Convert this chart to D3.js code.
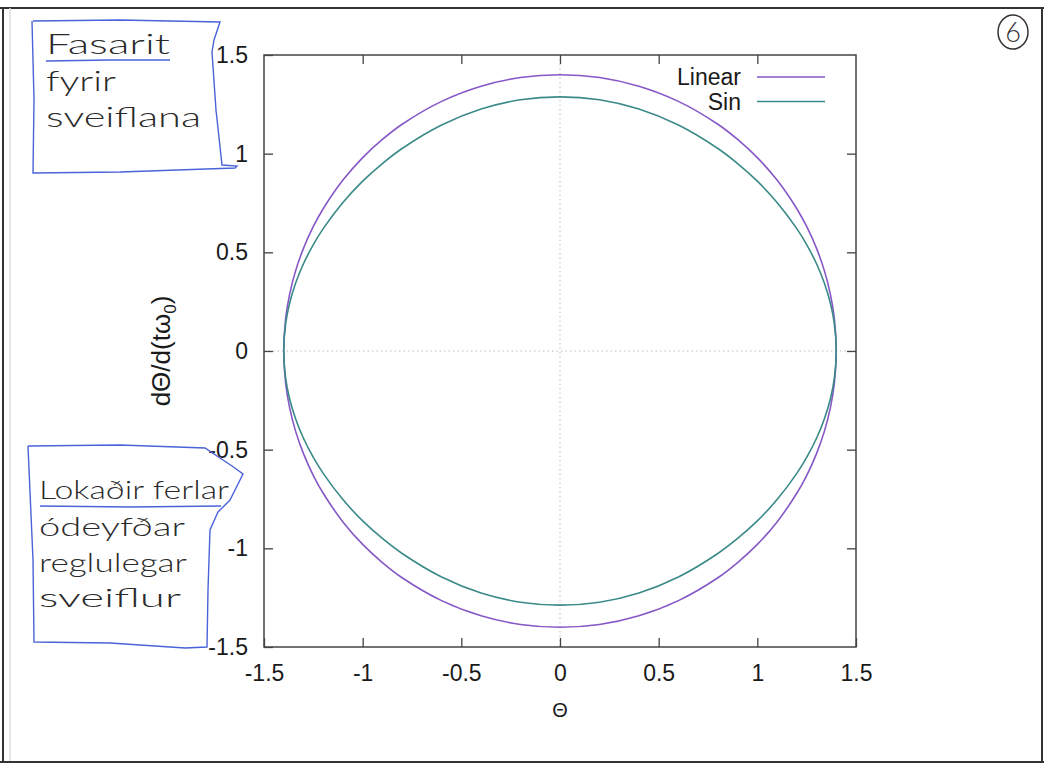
<!DOCTYPE html>
<html>
<head>
<meta charset="utf-8">
<script src="https://cdn.jsdelivr.net/npm/d3@7/dist/d3.min.js"></script>
<style>
  html, body { margin: 0; padding: 0; background: #fff; }
  svg { display: block; }
</style>
</head>
<body>
<svg id="chart" width="1044" height="763"></svg>
<script>
// Phase portrait of the pendulum: angle vs. scaled angular velocity.
// Closed loop, traced from the left turning point over the top and back along the bottom.
const theta = [
  -1.4, -1.39, -1.37, -1.34, -1.3, -1.25, -1.2, -1.1, -1.0, -0.9, -0.8, -0.6, -0.4, -0.2,
  0, 0.2, 0.4, 0.6, 0.8, 0.9, 1.0, 1.1, 1.2, 1.25, 1.3, 1.34, 1.37, 1.39, 1.4,
  1.39, 1.37, 1.34, 1.3, 1.25, 1.2, 1.1, 1.0, 0.9, 0.8, 0.6, 0.4, 0.2,
  0, -0.2, -0.4, -0.6, -0.8, -0.9, -1.0, -1.1, -1.2, -1.25, -1.3, -1.34, -1.37, -1.39
];
const omegaLinear = [
  0, 0.167, 0.288, 0.406, 0.520, 0.631, 0.721, 0.866, 0.980, 1.072, 1.149, 1.265, 1.342, 1.386,
  1.400, 1.386, 1.342, 1.265, 1.149, 1.072, 0.980, 0.866, 0.721, 0.631, 0.520, 0.406, 0.288, 0.167, 0,
  -0.167, -0.288, -0.406, -0.520, -0.631, -0.721, -0.866, -0.980, -1.072, -1.149, -1.265, -1.342, -1.386,
  -1.400, -1.386, -1.342, -1.265, -1.149, -1.072, -0.980, -0.866, -0.721, -0.631, -0.520, -0.406, -0.288, -0.167
];
const omegaSin = [
  0, 0.140, 0.243, 0.343, 0.442, 0.539, 0.620, 0.753, 0.861, 0.950, 1.026, 1.145, 1.226, 1.273,
  1.288, 1.273, 1.226, 1.145, 1.026, 0.950, 0.861, 0.753, 0.620, 0.539, 0.442, 0.343, 0.243, 0.140, 0,
  -0.140, -0.243, -0.343, -0.442, -0.539, -0.620, -0.753, -0.861, -0.950, -1.026, -1.145, -1.226, -1.273,
  -1.288, -1.273, -1.226, -1.145, -1.026, -0.950, -0.861, -0.753, -0.620, -0.539, -0.442, -0.343, -0.243, -0.140
];
const seriesNames = ["Linear", "Sin"];
const seriesColors = ["#8657c6", "#3a8a88"];
const xTicks = [-1.5, -1, -0.5, 0, 0.5, 1, 1.5];
const yTicks = [-1.5, -1, -0.5, 0, 0.5, 1, 1.5];
const xTickLabels = ["-1.5", "-1", "-0.5", "0", "0.5", "1", "1.5"];
const yTickLabels = ["-1.5", "-1", "-0.5", "0", "0.5", "1", "1.5"];
const noteTop = ["Fasarit", "fyrir", "sveiflana"];
const noteBottom = ["Lokaðir ferlar", "ódeyfðar", "reglulegar", "sveiflur"];

const svg = d3.select("#chart");
const W = 1044, H = 763;
const plot = { left: 264, right: 856, top: 55, bottom: 647 };

const x = d3.scaleLinear().domain([-1.5, 1.5]).range([plot.left, plot.right]);
const y = d3.scaleLinear().domain([-1.5, 1.5]).range([plot.bottom, plot.top]);

// Scanned page frame
const ink = "#333";
svg.append("line").attr("x1", 0).attr("x2", W).attr("y1", 8).attr("y2", 8)
  .attr("stroke", ink).attr("stroke-width", 2);
svg.append("line").attr("x1", 3).attr("x2", 3).attr("y1", 8).attr("y2", H)
  .attr("stroke", ink).attr("stroke-width", 2);
svg.append("line").attr("x1", 10).attr("x2", 10).attr("y1", 8).attr("y2", H)
  .attr("stroke", "#ddd").attr("stroke-width", 1.5);
svg.append("line").attr("x1", 1042).attr("x2", 1042).attr("y1", 8).attr("y2", H)
  .attr("stroke", ink).attr("stroke-width", 2);
svg.append("line").attr("x1", 0).attr("x2", W).attr("y1", 762).attr("y2", 762)
  .attr("stroke", ink).attr("stroke-width", 2);

// Zero axes (dotted)
const g = svg.append("g");
g.append("line").attr("x1", x(0)).attr("x2", x(0)).attr("y1", plot.top).attr("y2", plot.bottom)
  .attr("stroke", "#bbb").attr("stroke-width", 1).attr("stroke-dasharray", "1.5,3");
g.append("line").attr("x1", plot.left).attr("x2", plot.right).attr("y1", y(0)).attr("y2", y(0))
  .attr("stroke", "#bbb").attr("stroke-width", 1).attr("stroke-dasharray", "1.5,3");

// Axes with inward ticks, mirrored on top and right
const tickLen = 9;
const fmtX = (d, i) => xTickLabels[i];
const fmtY = (d, i) => yTickLabels[i];
const axisFont = "'Liberation Sans', Arial, Helvetica, sans-serif";
const axisFontSize = 23;

const bottomAxis = g.append("g").attr("transform", `translate(0,${plot.bottom})`)
  .call(d3.axisBottom(x).tickValues(xTicks).tickFormat(fmtX).tickSizeInner(-tickLen).tickSizeOuter(0).tickPadding(18));
const topAxis = g.append("g").attr("transform", `translate(0,${plot.top})`)
  .call(d3.axisTop(x).tickValues(xTicks.slice(1, -1)).tickFormat("").tickSizeInner(-tickLen).tickSizeOuter(0));
const leftAxis = g.append("g").attr("transform", `translate(${plot.left},0)`)
  .call(d3.axisLeft(y).tickValues(yTicks).tickFormat(fmtY).tickSizeInner(-tickLen).tickSizeOuter(0).tickPadding(16));
const rightAxis = g.append("g").attr("transform", `translate(${plot.right},0)`)
  .call(d3.axisRight(y).tickValues(yTicks.slice(1, -1)).tickFormat("").tickSizeInner(-tickLen).tickSizeOuter(0));

[bottomAxis, topAxis, leftAxis, rightAxis].forEach(a => {
  a.select(".domain").remove();
  a.selectAll(".tick line").attr("stroke", "#444").attr("stroke-width", 1.3);
  a.selectAll(".tick text").attr("font-family", axisFont).attr("font-size", axisFontSize).attr("fill", "#1a1a1a");
});

// Plot frame
g.append("rect").attr("x", plot.left).attr("y", plot.top)
  .attr("width", plot.right - plot.left).attr("height", plot.bottom - plot.top)
  .attr("fill", "none").attr("stroke", "#444").attr("stroke-width", 1.5);

// Curves
const line = d3.line().x(d => x(d[0])).y(d => y(d[1])).curve(d3.curveCatmullRomClosed.alpha(0.5));
const series = [omegaLinear, omegaSin];
series.forEach((om, k) => {
  g.append("path")
    .datum(theta.map((t, i) => [t, om[i]]))
    .attr("d", line)
    .attr("fill", "none")
    .attr("stroke", seriesColors[k])
    .attr("stroke-width", 1.6);
});

// Legend
seriesNames.forEach((name, k) => {
  const ly = 77 + k * 24.5;
  g.append("text").attr("x", 741).attr("y", ly).attr("dy", "0.35em")
    .attr("text-anchor", "end").attr("font-family", axisFont).attr("font-size", axisFontSize)
    .attr("fill", "#1a1a1a").text(name);
  g.append("line").attr("x1", 757).attr("x2", 825).attr("y1", ly).attr("y2", ly)
    .attr("stroke", seriesColors[k]).attr("stroke-width", 1.6);
});

// Axis titles
g.append("text").attr("x", x(0)).attr("y", 717)
  .attr("text-anchor", "middle").attr("font-family", axisFont).attr("font-size", 20)
  .attr("fill", "#1a1a1a").text("Θ");
const yt = g.append("text").attr("transform", `translate(170,${y(0)}) rotate(-90)`)
  .attr("text-anchor", "middle").attr("font-family", axisFont).attr("font-size", 26).attr("fill", "#1a1a1a");
yt.append("tspan").text("dΘ/d(tω");
yt.append("tspan").attr("font-size", 17).attr("dy", 6).text("0");
yt.append("tspan").attr("dy", -6).text(")");

// Hand-written notes in blue boxes (wide, light lettering)
const pen = "#4a63d8";
const handFont = "'Lato', 'Open Sans', sans-serif";
const box = d3.line().curve(d3.curveLinear);
svg.append("path")
  .attr("d", box([[33, 21], [120, 20], [220, 22], [214, 40], [212, 52], [216, 110], [222, 165], [237, 166],
                  [235, 168], [120, 172], [33, 173], [34, 100], [32, 21]]))
  .attr("fill", "none").attr("stroke", pen).attr("stroke-width", 1.4);
const topBase = [54, 91, 127];
const topWidth = [124, 70, 155];
noteTop.forEach((t, i) => {
  svg.append("text").attr("x", 46).attr("y", topBase[i])
    .attr("font-family", handFont).attr("font-weight", 300).attr("font-size", 27)
    .attr("textLength", topWidth[i]).attr("lengthAdjust", "spacingAndGlyphs")
    .attr("fill", "#2a2a2a").text(t);
});
svg.append("path").attr("d", box([[46, 61], [110, 60], [170, 60]]))
  .attr("fill", "none").attr("stroke", pen).attr("stroke-width", 1.4);

svg.append("path")
  .attr("d", box([[28, 446], [120, 445], [205, 448], [232, 466], [243, 474], [230, 500], [218, 512],
                  [210, 530], [208, 590], [207, 647], [185, 648], [110, 643], [34, 642], [33, 560], [28, 446]]))
  .attr("fill", "none").attr("stroke", pen).attr("stroke-width", 1.4);
const botBase = [499, 536, 572, 607];
const botWidth = [190, 146, 148, 142];
noteBottom.forEach((t, i) => {
  svg.append("text").attr("x", 39).attr("y", botBase[i])
    .attr("font-family", handFont).attr("font-weight", 300).attr("font-size", 26)
    .attr("textLength", botWidth[i]).attr("lengthAdjust", "spacingAndGlyphs")
    .attr("fill", "#2a2a2a").text(t);
});
svg.append("path").attr("d", box([[40, 506], [130, 507], [221, 506]]))
  .attr("fill", "none").attr("stroke", pen).attr("stroke-width", 1.4);

// Page number, circled
svg.append("ellipse").attr("cx", 1013).attr("cy", 32).attr("rx", 15).attr("ry", 17)
  .attr("fill", "none").attr("stroke", "#333").attr("stroke-width", 1.5);
svg.append("text").attr("x", 1013).attr("y", 32).attr("dy", "0.36em")
  .attr("text-anchor", "middle").attr("font-family", handFont).attr("font-weight", 300)
  .attr("font-size", 27).attr("fill", "#333").text("6");
</script>
</body>
</html>
